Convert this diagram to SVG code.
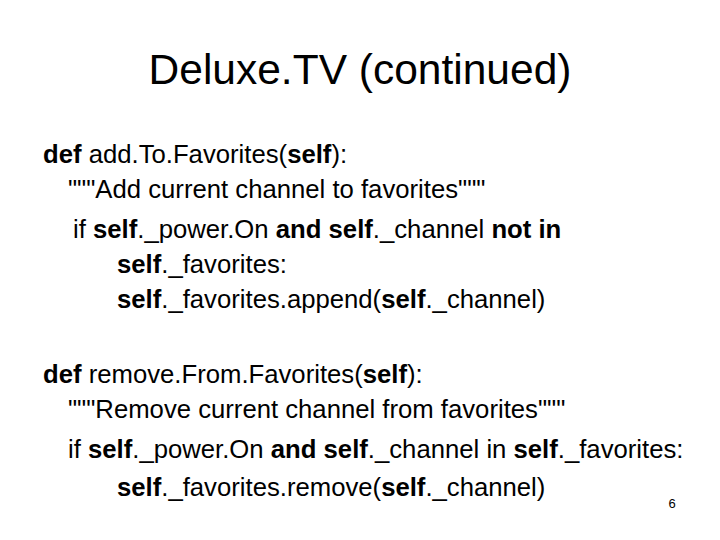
<svg xmlns="http://www.w3.org/2000/svg" width="720" height="540" viewBox="0 0 720 540">
<style>
text{font-family:"Liberation Sans",Arial,sans-serif;fill:#000}
.b{font-size:25.7px}
.k{font-weight:bold}
</style>
<rect width="720" height="540" fill="#fff"/>
<g id="title"><text x="360" y="84" font-size="42.5" text-anchor="middle">Deluxe.TV (continued)</text></g>
<g id="body">
<text class="b" x="43" y="163"><tspan class="k">def</tspan> add.To.Favorites(<tspan class="k">self</tspan>):</text>
<text class="b" x="68" y="198">"""Add current channel to favorites"""</text>
<text class="b" x="73" y="238">if <tspan class="k">self</tspan>._power.On <tspan class="k">and</tspan> <tspan class="k">self</tspan>._channel <tspan class="k">not in</tspan></text>
<text class="b" x="117" y="273"><tspan class="k">self</tspan>._favorites:</text>
<text class="b" x="117" y="308"><tspan class="k">self</tspan>._favorites.append(<tspan class="k">self</tspan>._channel)</text>
<text class="b" x="43" y="383"><tspan class="k">def</tspan> remove.From.Favorites(<tspan class="k">self</tspan>):</text>
<text class="b" x="68" y="418">"""Remove current channel from favorites"""</text>
<text class="b" x="68" y="458">if <tspan class="k">self</tspan>._power.On <tspan class="k">and</tspan> <tspan class="k">self</tspan>._channel in <tspan class="k">self</tspan>._favorites:</text>
<text class="b" x="117" y="496"><tspan class="k">self</tspan>._favorites.remove(<tspan class="k">self</tspan>._channel)</text>
</g>
<g id="page"><text x="672" y="508" font-size="13" text-anchor="middle">6</text></g>
</svg>
